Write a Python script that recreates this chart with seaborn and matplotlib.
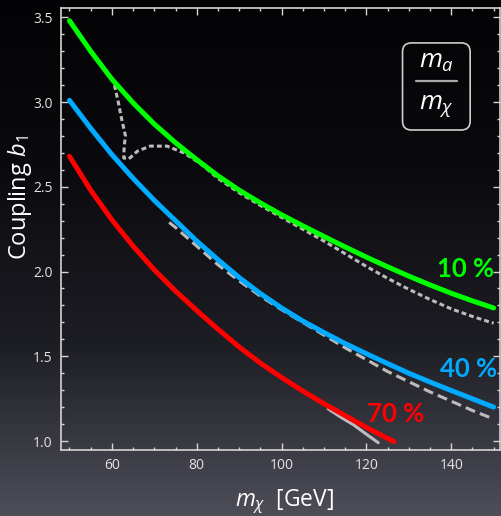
import matplotlib
matplotlib.use("Agg")
import matplotlib.pyplot as plt
import numpy as np
import seaborn as sns
from matplotlib.colors import LinearSegmentedColormap
from matplotlib.patches import FancyBboxPatch
from matplotlib.ticker import MultipleLocator

# --- 1. DATA ---
# solid limit curves for m_a / m_chi = 10 %, 40 %, 70 %
mchi_10 = [50, 55, 60, 65, 70, 75, 80, 85, 90, 95, 100, 105, 110, 115, 120, 125, 130, 135, 140, 145, 150]
b1_10 = [3.48, 3.30, 3.135, 2.995, 2.87, 2.76, 2.66, 2.565, 2.48, 2.405, 2.335, 2.27, 2.207, 2.145, 2.085,
         2.028, 1.973, 1.921, 1.872, 1.827, 1.785]

mchi_40 = [50, 55, 60, 65, 70, 75, 80, 85, 90, 95, 100, 105, 110, 115, 120, 125, 130, 135, 140, 145, 150]
b1_40 = [3.01, 2.845, 2.69, 2.55, 2.42, 2.30, 2.18, 2.07, 1.965, 1.87, 1.785, 1.708, 1.64, 1.575, 1.515,
         1.457, 1.40, 1.348, 1.298, 1.249, 1.20]

mchi_70 = [50, 55, 60, 65, 70, 75, 80, 85, 90, 95, 100, 105, 110, 115, 120, 125, 126.5]
b1_70 = [2.68, 2.48, 2.305, 2.15, 2.01, 1.885, 1.77, 1.66, 1.555, 1.46, 1.375, 1.295, 1.22, 1.15, 1.08,
         1.015, 0.997]

# grey comparison curves
mchi_dot = [60.6, 61.5, 62.3, 63.2, 62.9, 62.8, 64.0, 66.0, 69.0, 73.0, 77.0, 81.0, 85, 90, 95, 100,
            105, 110, 115, 120, 125, 130, 135, 140, 145, 150]
b1_dot = [3.10, 3.00, 2.90, 2.80, 2.74, 2.67, 2.665, 2.71, 2.74, 2.74, 2.70, 2.635, 2.55, 2.465, 2.39, 2.32,
          2.25, 2.18, 2.105, 2.03, 1.96, 1.895, 1.835, 1.78, 1.735, 1.695]

mchi_dash = [73.5, 75, 80, 85, 90, 95, 100, 105, 110, 115, 120, 125, 130, 135, 140, 145, 150]
b1_dash = [2.29, 2.26, 2.15, 2.04, 1.945, 1.855, 1.775, 1.70, 1.625, 1.55, 1.48, 1.41, 1.35, 1.29, 1.235,
           1.18, 1.13]

mchi_grey = [111, 114, 117, 120, 122.8]
b1_grey = [1.19, 1.14, 1.095, 1.04, 0.99]

labels = ["10 %", "40 %", "70 %"]
label_x = [143.3, 144.2, 127.0]
label_y = [2.015, 1.425, 1.16]
colors = ["#00ff00", "#00aaff", "#ff0000"]

# --- 2. STYLE ---
sns.set_theme(style="ticks")
plt.rcParams['font.family'] = ['Open Sans', 'DejaVu Sans']
plt.rcParams['mathtext.fontset'] = 'custom'
plt.rcParams['mathtext.rm'] = 'Open Sans'
plt.rcParams['mathtext.it'] = 'Open Sans:italic'
plt.rcParams['mathtext.bf'] = 'Open Sans:bold'

fig = plt.figure(figsize=(5.02, 5.16), dpi=100)

# dark vertical gradient behind everything
bg = fig.add_axes([0, 0, 1, 1], zorder=-10)
grad = np.linspace(0, 1, 256).reshape(-1, 1)
bg_cmap = LinearSegmentedColormap.from_list("bg", ["#030305", "#0b0b0f", "#1d1d24", "#4e4e59"])
bg.imshow(grad, aspect="auto", cmap=bg_cmap, extent=[0, 1, 0, 1], origin="upper")
bg.axis("off")

ax = fig.add_axes([61 / 502, 66 / 516, 439 / 502, 442 / 516])
ax.set_facecolor((0, 0, 0, 0))

# --- 3. CURVES ---
grey = "#bcbcbc"
sns.lineplot(x=mchi_dot, y=b1_dot, ax=ax, color=grey, linewidth=2.2, sort=False, estimator=None,
             linestyle=(0, (1.6, 1.0)), dash_capstyle="butt")
sns.lineplot(x=mchi_dash, y=b1_dash, ax=ax, color=grey, linewidth=2.2, sort=False, estimator=None,
             linestyle=(0, (3.3, 1.7)), dash_capstyle="butt")
sns.lineplot(x=mchi_grey, y=b1_grey, ax=ax, color=grey, linewidth=2.2, sort=False, estimator=None)

for xs, ys, c in zip([mchi_10, mchi_40, mchi_70], [b1_10, b1_40, b1_70], colors):
    sns.lineplot(x=xs, y=ys, ax=ax, color=c, linewidth=3.6, sort=False, estimator=None)

for txt, lx, ly, c in zip(labels, label_x, label_y, colors):
    ax.text(lx, ly, txt, color=c, fontsize=18.5, fontweight="bold", family=["Lato", "DejaVu Sans"],
            ha="center", va="center")

# --- 4. AXES ---
ax.set_xlim(48, 151.5)
ax.set_ylim(0.947, 3.555)
ax.xaxis.set_major_locator(MultipleLocator(20))
ax.xaxis.set_minor_locator(MultipleLocator(5))
ax.yaxis.set_major_locator(MultipleLocator(0.5))
ax.yaxis.set_minor_locator(MultipleLocator(0.1))

axis_col = "#d4d4d4"
ax.tick_params(which="both", direction="in", top=True, right=True, color=axis_col,
               labelcolor="#e2e2e2", labelsize=10, width=1.0, pad=6)
ax.tick_params(which="major", length=5)
ax.tick_params(which="minor", length=2.5)
for sp in ax.spines.values():
    sp.set_visible(True)
    sp.set_color(axis_col)
    sp.set_linewidth(1.2)

ax.set_xlabel(r"$m_\chi$  [GeV]", fontsize=16.5, color="white")
ax.set_ylabel(r"Coupling $b_1$", fontsize=17, color="white")
ax.xaxis.set_label_coords(0.51, -0.085)
ax.yaxis.set_label_coords(-0.062, 0.572)

# --- 5. RATIO BOX ---
box = FancyBboxPatch((0.778, 0.724), 0.154, 0.197, boxstyle="round,pad=0,rounding_size=0.02",
                     transform=ax.transAxes, facecolor="none", edgecolor="#cfcfcf", linewidth=1.2)
ax.add_patch(box)
ax.text(0.855, 0.878, r"$m_a$", transform=ax.transAxes, fontsize=19, color="white",
        ha="center", va="center")
ax.plot([0.809, 0.902], [0.8355, 0.8355], transform=ax.transAxes, color="#a8a8a8", linewidth=1.6)
ax.text(0.855, 0.778, r"$m_\chi$", transform=ax.transAxes, fontsize=19, color="white",
        ha="center", va="center")

fig.savefig("out.png", dpi=100)
